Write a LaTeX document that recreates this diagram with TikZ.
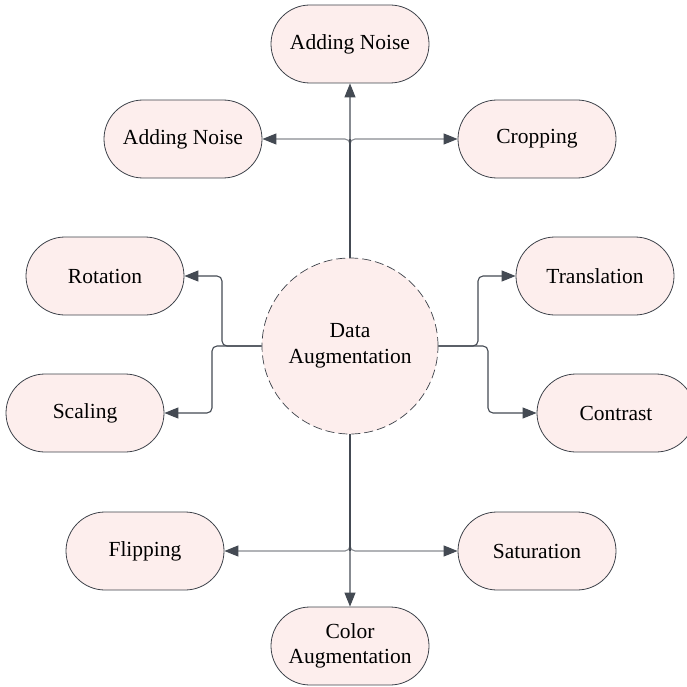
\documentclass[tikz,border=0pt]{standalone}
\usepackage{fontspec}
\setmainfont{Liberation Serif}
\usetikzlibrary{arrows.meta}
\definecolor{boxfill}{HTML}{FDEEED}
\definecolor{boxline}{HTML}{3E434B}
\definecolor{wire}{HTML}{444A53}
\definecolor{wirelight}{HTML}{878B91}
\tikzset{
  pill/.style={draw=boxline, line width=0.8pt, fill=boxfill, rounded corners=39pt,
    minimum width=158pt, minimum height=78pt, align=center, font=\fontsize{21.5}{25}\selectfont, inner sep=0pt},
  hub/.style={circle, draw=boxline, dash pattern=on 9pt off 4pt, line width=0.7pt, fill=boxfill,
    minimum size=176pt, align=center, font=\fontsize{21.5}{26}\selectfont, inner sep=0pt},
  wireline/.style={draw=wire, line width=1.1pt, rounded corners=5pt,
    -{Triangle[length=14pt,width=11pt,color=wire]}},
  lightline/.style={wireline, draw=wirelight},
  trunk/.style={draw=wire, line width=1.7pt}
}
\begin{document}
\begin{tikzpicture}[x=1pt,y=1pt]
\useasboundingbox (0,0) rectangle (686,-687);

% outer nodes
\node[pill] (nt)  at (350,-44)  {Adding Noise};
\node[pill] (nl)  at (183,-139) {Adding Noise};
\node[pill] (cr)  at (537,-139) {Cropping};
\node[pill] (rot) at (105,-276) {Rotation};
\node[pill] (tr)  at (595,-276) {Translation};
\node[pill] (sc)  at (85,-413)  {Scaling};
\node[pill] (co)  at (616,-413) {Contrast};
\node[pill] (fl)  at (145,-551) {Flipping};
\node[pill] (sa)  at (537,-551) {Saturation};
\node[pill] (ca)  at (350,-646) {Color\\Augmentation};

% central hub
\node[hub] (c) at (350,-346) {Data\\Augmentation};

% branch points
\coordinate (jt) at (350,-139);
\coordinate (jb) at (350,-551);
\coordinate (kr) at (222,-346);
\coordinate (ks) at (212,-346);
\coordinate (kt) at (478,-346);
\coordinate (kc) at (488,-346);

% upper fan
\draw[lightline] (c.north) -- (nt.south);
\draw[lightline] (c.north) |- (nl.east);
\draw[lightline] (c.north) |- (cr.west);
\draw[trunk] (c.north) -- (jt);

% left fan
\draw[wireline] (c.west) -- (kr) |- (rot.east);
\draw[wireline] (c.west) -- (ks) |- (sc.east);

% right fan
\draw[wireline] (c.east) -- (kt) |- (tr.west);
\draw[wireline] (c.east) -- (kc) |- (co.west);

% lower fan
\draw[lightline] (c.south) -- (ca.north);
\draw[lightline] (c.south) |- (fl.east);
\draw[lightline] (c.south) |- (sa.west);
\draw[trunk] (c.south) -- (jb);
\end{tikzpicture}
\end{document}
